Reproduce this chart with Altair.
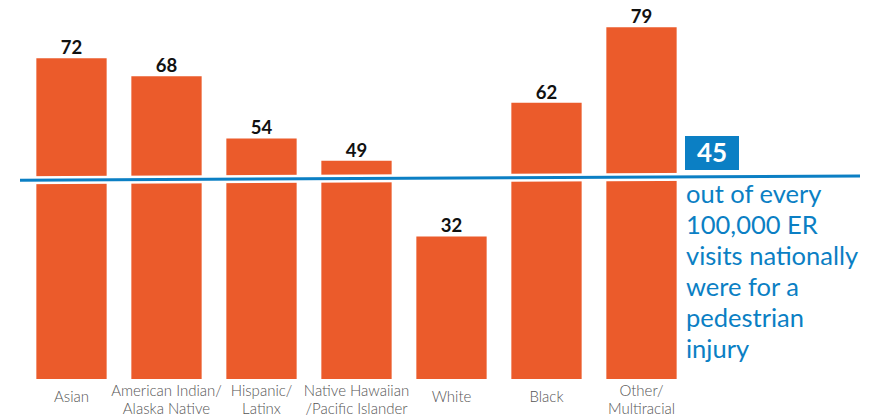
import altair as alt
import pandas as pd

categories = ["Asian", "American Indian/\nAlaska Native", "Hispanic/\nLatinx",
              "Native Hawaiian\n/Pacific Islander", "White", "Black", "Other/\nMultiracial"]
values = [72, 68, 54, 49, 32, 62, 79]
national_rate = 45
line_start = 44.6
line_end = 45.6
note_lines = ["out of every", "100,000 ER", "visits nationally", "were for a", "pedestrian", "injury"]

ORANGE = "#EB5B2B"
BLUE = "#0B7FC4"
FONT = "Lato"

df = pd.DataFrame({"cat": categories, "val": values})

W, H = 840, 371
xscale = alt.Scale(domain=categories, range=[4, 669], paddingInner=0.26, paddingOuter=0.13)
yscale = alt.Scale(domain=[0, 83.3], nice=False, zero=True)

base = alt.Chart(df)

bars = base.mark_bar(color=ORANGE).encode(
    x=alt.X("cat:N", scale=xscale, sort=None, axis=None),
    y=alt.Y("val:Q", scale=yscale, axis=None),
)

labels = base.mark_text(baseline="alphabetic", dy=-4, font=FONT, fontSize=18.5,
                        fontWeight="bold", color="#111111").encode(
    x=alt.X("cat:N", scale=xscale, sort=None),
    y=alt.Y("val:Q", scale=yscale),
    text="val:Q",
)

cat_text = dict(font=FONT, fontSize=15, fontWeight=300, color="#555555",
                baseline="middle", align="center", lineHeight=18)
multi_labels = base.transform_filter("indexof(datum.cat, '\\n') >= 0").transform_calculate(
    lbl="split(datum.cat, '\\n')").mark_text(**cat_text).encode(
    x=alt.X("cat:N", scale=xscale, sort=None), y=alt.value(H + 12), text="lbl:N")
single_labels = base.transform_filter("indexof(datum.cat, '\\n') < 0").mark_text(**cat_text).encode(
    x=alt.X("cat:N", scale=xscale, sort=None), y=alt.value(H + 18), text="cat:N")

line_df = pd.DataFrame({"y1": [line_start], "y2": [line_end]})
white_rule = alt.Chart(line_df).mark_rule(color="white", strokeWidth=8).encode(
    x=alt.value(0), x2=alt.value(W),
    y=alt.Y("y1:Q", scale=yscale), y2="y2:Q")
blue_rule = alt.Chart(line_df).mark_rule(color=BLUE, strokeWidth=3).encode(
    x=alt.value(0), x2=alt.value(W),
    y=alt.Y("y1:Q", scale=yscale), y2="y2:Q")

box = alt.Chart(pd.DataFrame({"v": [national_rate]})).mark_rect(color=BLUE).encode(
    x=alt.value(665), x2=alt.value(719), y=alt.value(128), y2=alt.value(162))
box_text = alt.Chart(pd.DataFrame({"v": [str(national_rate)]})).mark_text(
    font=FONT, fontSize=26, fontWeight="bold", color="white",
    align="center", baseline="middle").encode(
    x=alt.value(692), y=alt.value(146), text="v:N")

note = alt.Chart(pd.DataFrame({"t": [note_lines]})).mark_text(
    font=FONT, fontSize=25.5, color=BLUE, align="left", baseline="alphabetic",
    lineHeight=31).encode(
    x=alt.value(666), y=alt.value(195), text="t")

chart = alt.layer(bars, labels, multi_labels, single_labels, white_rule, blue_rule,
                  box, box_text, note).properties(
    width=W, height=H,
    padding={"left": 12, "top": 0, "right": 14, "bottom": 38},
    autosize=alt.AutoSizeParams(type="none"),
    background="white",
).configure_view(stroke=None)

chart.save("out.html", embed_options={"renderer": "svg", "actions": False})
